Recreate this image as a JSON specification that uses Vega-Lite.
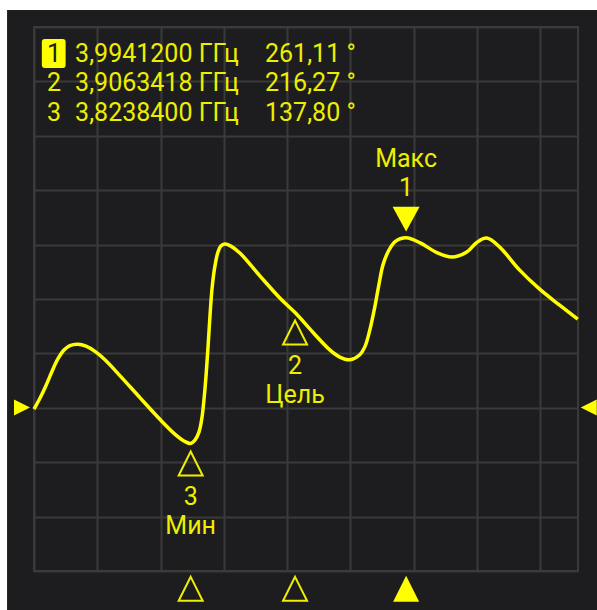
{
  "$schema": "https://vega.github.io/schema/vega-lite/v6.json",
  "width": 544,
  "height": 544,
  "autosize": "none",
  "padding": {"left": 34, "top": 27, "right": 19, "bottom": 39},
  "background": "#1d1d1f",
  "config": {
    "view": {"stroke": "#3a3a3a", "strokeWidth": 2},
    "axis": {"labels": false, "ticks": false, "domain": false, "grid": true, "gridColor": "#3a3a3a", "gridWidth": 2, "titleOpacity": 0},
    "text": {"font": "Roboto", "fontSize": 25, "color": "#eeee00"}
  },
  "datasets": {
    "curve": [
      {"freq": 3.7000, "phase": 158.4},
      {"freq": 3.7047, "phase": 164.9},
      {"freq": 3.7095, "phase": 172.6},
      {"freq": 3.7142, "phase": 181.0},
      {"freq": 3.7190, "phase": 188.6},
      {"freq": 3.7237, "phase": 193.8},
      {"freq": 3.7284, "phase": 196.5},
      {"freq": 3.7348, "phase": 197.3},
      {"freq": 3.7411, "phase": 196.1},
      {"freq": 3.7482, "phase": 193.0},
      {"freq": 3.7561, "phase": 188.0},
      {"freq": 3.7679, "phase": 178.5},
      {"freq": 3.7837, "phase": 165.3},
      {"freq": 3.7995, "phase": 152.3},
      {"freq": 3.8120, "phase": 143.0},
      {"freq": 3.8193, "phase": 139.0},
      {"freq": 3.82384, "phase": 137.8},
      {"freq": 3.8272, "phase": 139.8},
      {"freq": 3.8304, "phase": 144.6},
      {"freq": 3.8327, "phase": 153.0},
      {"freq": 3.8347, "phase": 166.8},
      {"freq": 3.8363, "phase": 181.7},
      {"freq": 3.8379, "phase": 199.7},
      {"freq": 3.8394, "phase": 217.7},
      {"freq": 3.8410, "phase": 232.7},
      {"freq": 3.8430, "phase": 244.1},
      {"freq": 3.8454, "phase": 252.5},
      {"freq": 3.8477, "phase": 256.1},
      {"freq": 3.8509, "phase": 257.3},
      {"freq": 3.8556, "phase": 256.1},
      {"freq": 3.8627, "phase": 252.0},
      {"freq": 3.8785, "phase": 238.3},
      {"freq": 3.8943, "phase": 225.0},
      {"freq": 3.9063418, "phase": 216.27},
      {"freq": 3.9204, "phase": 204.5},
      {"freq": 3.9338, "phase": 193.9},
      {"freq": 3.9417, "phase": 189.6},
      {"freq": 3.9496, "phase": 188.0},
      {"freq": 3.9575, "phase": 191.0},
      {"freq": 3.9615, "phase": 195.7},
      {"freq": 3.9654, "phase": 205.7},
      {"freq": 3.9694, "phase": 219.7},
      {"freq": 3.9728, "phase": 233.7},
      {"freq": 3.9759, "phase": 245.0},
      {"freq": 3.9799, "phase": 252.7},
      {"freq": 3.9852, "phase": 258.7},
      {"freq": 3.99412, "phase": 261.11},
      {"freq": 4.0049, "phase": 258.2},
      {"freq": 4.0184, "phase": 252.2},
      {"freq": 4.0302, "phase": 249.5},
      {"freq": 4.0421, "phase": 252.5},
      {"freq": 4.0500, "phase": 258.3},
      {"freq": 4.0579, "phase": 260.9},
      {"freq": 4.0681, "phase": 255.5},
      {"freq": 4.0839, "phase": 241.7},
      {"freq": 4.0997, "phase": 230.3},
      {"freq": 4.1155, "phase": 220.7},
      {"freq": 4.1298, "phase": 212.3}
    ],
    "markers": [
      {"id": 1, "freq": 3.99412, "phase": 261.11, "name": "Макс"},
      {"id": 2, "freq": 3.9063418, "phase": 216.27, "name": "Цель"},
      {"id": 3, "freq": 3.82384, "phase": 137.80, "name": "Мин"}
    ],
    "header": [
      {"id": 1, "freqText": "3,9941200 ГГц", "phaseText": "261,11 °"},
      {"id": 2, "freqText": "3,9063418 ГГц", "phaseText": "216,27 °"},
      {"id": 3, "freqText": "3,8238400 ГГц", "phaseText": "137,80 °"}
    ]
  },
  "layer": [
    {
      "layer": [
        {
          "data": {"values": [{}]},
          "mark": {"type": "rect", "fill": "#ffffff"},
          "encoding": {
            "x": {"datum": 3.64, "type": "quantitative"},
            "x2": {"datum": 3.6787},
            "y": {"datum": 420, "type": "quantitative"},
            "y2": {"datum": 20}
          }
        },
        {
          "data": {"values": [{}]},
          "mark": {"type": "rect", "fill": "#ffffff"},
          "encoding": {
            "x": {"datum": 3.64, "type": "quantitative"},
            "x2": {"datum": 4.17},
            "y": {"datum": 420, "type": "quantitative"},
            "y2": {"datum": 397.6}
          }
        },
        {
          "data": {"name": "curve"},
          "mark": {"type": "line", "color": "#ffff00", "strokeWidth": 3.5, "interpolate": "catmull-rom"},
          "encoding": {
            "x": {"field": "freq", "type": "quantitative", "title": null,
              "scale": {"domain": [3.70, 4.13], "nice": false, "zero": false},
              "axis": {"values": [3.70, 3.75, 3.80, 3.85, 3.90, 3.95, 4.00, 4.05, 4.10]}},
            "y": {"field": "phase", "type": "quantitative", "title": null,
              "scale": {"domain": [61.4, 387.4], "nice": false, "zero": false},
              "axis": {"values": [61.4, 94, 126.6, 159.2, 191.8, 224.4, 257, 289.6, 322.2, 354.8, 387.4]}}
          }
        },
        {
          "data": {"name": "markers"},
          "transform": [{"filter": "datum.id == 1"}],
          "encoding": {
            "x": {"field": "freq", "type": "quantitative", "title": null},
            "y": {"field": "phase", "type": "quantitative", "title": null}
          },
          "layer": [
            {"mark": {"type": "point", "shape": "M-1,-0.92L1,-0.92L0,0.92Z", "size": 729, "filled": true, "color": "#ffff00", "opacity": 1, "strokeWidth": 0, "yOffset": -18.6}},
            {"mark": {"type": "text", "yOffset": -50, "baseline": "middle"}, "encoding": {"text": {"field": "id", "type": "nominal"}}},
            {"mark": {"type": "text", "yOffset": -78.5, "baseline": "middle"}, "encoding": {"text": {"field": "name", "type": "nominal"}}}
          ]
        },
        {
          "data": {"name": "markers"},
          "transform": [{"filter": "datum.id != 1"}],
          "encoding": {
            "x": {"field": "freq", "type": "quantitative", "title": null},
            "y": {"field": "phase", "type": "quantitative", "title": null}
          },
          "layer": [
            {"mark": {"type": "point", "shape": "M0,-1L1,1L-1,1Z", "size": 576, "filled": false, "color": "#eeee00", "strokeWidth": 2, "opacity": 1, "yOffset": 20}},
            {"mark": {"type": "text", "yOffset": 53, "baseline": "middle"}, "encoding": {"text": {"field": "id", "type": "nominal"}}},
            {"mark": {"type": "text", "yOffset": 82, "baseline": "middle"}, "encoding": {"text": {"field": "name", "type": "nominal"}}}
          ]
        },
        {
          "data": {"name": "markers"},
          "transform": [{"filter": "datum.id == 1"}],
          "mark": {"type": "point", "shape": "M0,-1L1,1L-1,1Z", "size": 676, "filled": true, "color": "#ffff00", "opacity": 1, "strokeWidth": 0},
          "encoding": {
            "x": {"field": "freq", "type": "quantitative", "title": null},
            "y": {"datum": 50.7, "type": "quantitative"}
          }
        },
        {
          "data": {"name": "markers"},
          "transform": [{"filter": "datum.id != 1"}],
          "mark": {"type": "point", "shape": "M0,-1L1,1L-1,1Z", "size": 576, "filled": false, "color": "#eeee00", "strokeWidth": 2, "opacity": 1},
          "encoding": {
            "x": {"field": "freq", "type": "quantitative", "title": null},
            "y": {"datum": 50.7, "type": "quantitative"}
          }
        },
        {
          "data": {"values": [{}]},
          "mark": {"type": "point", "shape": "M-1,-1L1,0L-1,1Z", "size": 256, "filled": true, "color": "#ffff00", "opacity": 1, "strokeWidth": 0},
          "encoding": {
            "x": {"datum": 3.6905, "type": "quantitative"},
            "y": {"datum": 159.4, "type": "quantitative"}
          }
        },
        {
          "data": {"values": [{}]},
          "mark": {"type": "point", "shape": "M1,-1L-1,0L1,1Z", "size": 256, "filled": true, "color": "#ffff00", "opacity": 1, "strokeWidth": 0},
          "encoding": {
            "x": {"datum": 4.1385, "type": "quantitative"},
            "y": {"datum": 159.4, "type": "quantitative"}
          }
        }
      ]
    },
    {
      "data": {"name": "header"},
      "encoding": {
        "y": {"field": "id", "type": "quantitative", "axis": null,
          "scale": {"domain": [0.1092, 18.395], "reverse": true, "nice": false, "zero": false}}
      },
      "layer": [
        {
          "transform": [{"filter": "datum.id == 1"}],
          "mark": {"type": "point", "shape": "M-0.82,-0.8Q-0.82,-1,-0.62,-1L0.62,-1Q0.82,-1,0.82,-0.8L0.82,0.8Q0.82,1,0.62,1L-0.62,1Q-0.82,1,-0.82,0.8Z", "size": 841, "filled": true, "color": "#ffff00", "opacity": 1, "strokeWidth": 0},
          "encoding": {"x": {"datum": 3.7156, "type": "quantitative"}}
        },
        {
          "mark": {"type": "text", "align": "center", "baseline": "middle"},
          "encoding": {
            "x": {"datum": 3.7158, "type": "quantitative"},
            "text": {"field": "id", "type": "nominal"},
            "color": {"condition": {"test": "datum.id == 1", "value": "#1d1d1f"}, "value": "#eeee00"}
          }
        },
        {
          "mark": {"type": "text", "align": "left", "baseline": "middle"},
          "encoding": {
            "x": {"datum": 3.7325, "type": "quantitative"},
            "text": {"field": "freqText", "type": "nominal"}
          }
        },
        {
          "mark": {"type": "text", "align": "left", "baseline": "middle"},
          "encoding": {
            "x": {"datum": 3.8826, "type": "quantitative"},
            "text": {"field": "phaseText", "type": "nominal"}
          }
        }
      ]
    }
  ],
  "resolve": {"scale": {"y": "independent"}}
}
